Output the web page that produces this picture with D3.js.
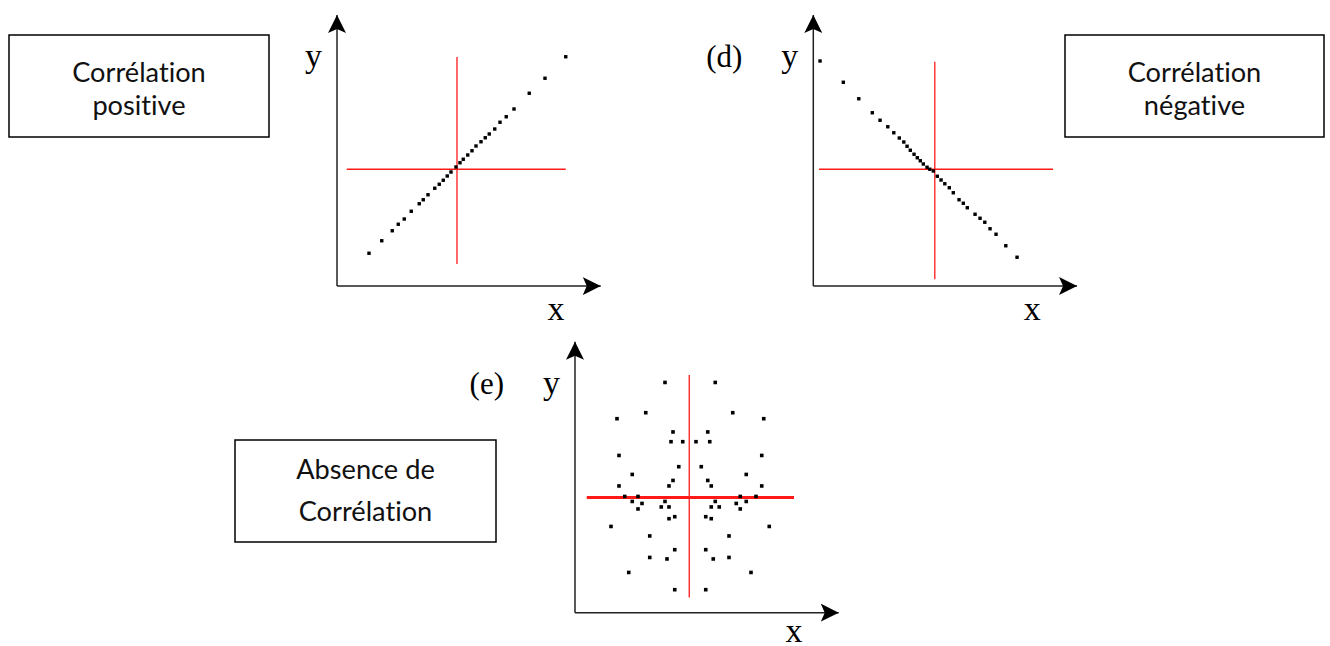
<!DOCTYPE html>
<html>
<head>
<meta charset="utf-8">
<script src="https://cdn.jsdelivr.net/npm/d3@7"></script>
<style>
  body { margin: 0; background: #fff; }
  text { font-variant-ligatures: none; }
</style>
</head>
<body>
<script>
// point clouds, values on a 0-100 scale for each panel
var posX = [12.8, 17.9, 22.1, 24.5, 26.9, 29.7, 32.9, 34.5, 36.4, 39.1, 40.9, 42.5, 44.1, 45.6, 47.6,
            49.2, 50.5, 52.3, 54.0, 55.6, 57.6, 59.3, 60.9, 63.1, 65.2, 67.7, 70.8, 76.9, 83.2, 91.5];
var posY = [13.1, 18.1, 22.1, 24.7, 26.8, 29.9, 32.9, 34.5, 36.5, 39.1, 40.7, 42.3, 44.0, 45.6, 47.6,
            49.3, 50.7, 52.4, 54.1, 56.0, 57.7, 59.3, 60.8, 62.8, 65.5, 67.7, 70.8, 77.1, 83.1, 91.7];

var negX = [2.7, 12.0, 18.2, 23.6, 26.7, 29.8, 32.2, 34.4, 36.2, 37.5, 38.8, 40.3, 41.6, 42.8, 44.0, 45.5, 46.6,
            48.0, 49.6, 51.1, 52.6, 54.4, 56.0, 58.3, 60.0, 61.6, 64.7, 66.7, 68.6, 70.7, 73.1, 77.0, 81.5];
var negY = [90.0, 81.5, 74.9, 69.3, 66.3, 63.7, 61.3, 59.2, 57.6, 55.9, 54.3, 52.7, 51.3, 50.1, 48.8, 47.5, 46.7,
            46.0, 43.9, 42.4, 40.9, 39.3, 37.3, 34.5, 33.1, 31.3, 28.7, 27.1, 25.5, 22.9, 20.7, 16.1, 11.5];

var nulX = [36.0, 56.1, 28.3, 63.1, 16.8, 75.5, 39.2, 53.1, 38.4, 43.1, 48.4, 53.9, 17.6, 74.7, 41.5, 50.5,
            22.9, 68.5, 39.2, 53.1, 17.6, 37.6, 54.5, 74.7, 19.9, 25.2, 66.1, 72.4, 22.9, 36.0, 56.1, 68.5,
            26.8, 64.5, 25.2, 34.5, 37.6, 54.5, 57.7, 66.1, 37.6, 39.9, 52.3, 54.5, 14.4, 77.7, 29.9, 61.6,
            39.9, 52.3, 29.9, 36.8, 55.3, 61.6, 21.5, 70.4, 39.9, 52.3];
var nulY = [92.1, 92.1, 80.0, 80.0, 77.6, 77.6, 72.3, 72.3, 68.4, 68.4, 68.4, 68.4, 62.9, 62.9, 58.4, 58.4,
            55.3, 55.3, 52.9, 52.9, 50.7, 50.7, 50.7, 50.7, 46.5, 46.5, 46.5, 46.5, 44.5, 44.5, 44.5, 44.5,
            43.7, 43.7, 41.5, 42.3, 42.3, 42.3, 42.3, 41.5, 37.6, 38.4, 38.4, 37.6, 34.5, 34.5, 30.7, 30.7,
            25.2, 25.2, 22.1, 21.5, 21.5, 22.1, 16.1, 16.1, 9.2, 9.2];

// red cross (mean of x, mean of y) and how far each arm goes
var meanX = [48.0, 48.6, 45.7];
var meanY = [46.7, 46.7, 46.1];
var hFrom = [3.9, 2.3, 4.7];
var hTo = [91.5, 95.9, 87.6];
var vFrom = [8.8, 2.7, 6.1];
var vTo = [91.6, 89.7, 95.1];
var axisMax = [105.5, 108.4];

var boxText = [["Corrélation", "positive"], ["Corrélation", "négative"], ["Absence de", "Corrélation"]];
var panelTags = ["", "(d)", "(e)"];

var svg = d3.select("body").append("svg")
    .attr("width", 1330)
    .attr("height", 646);

svg.append("defs").append("marker")
    .attr("id", "arrow")
    .attr("viewBox", "0 -10 20 20")
    .attr("refX", 18)
    .attr("refY", 0)
    .attr("markerUnits", "userSpaceOnUse")
    .attr("markerWidth", 20)
    .attr("markerHeight", 20)
    .attr("orient", "auto")
    .append("path")
    .attr("d", "M0,-9 L18,0 L0,9 L4,0 Z")
    .attr("fill", "#000");

var panels = [
    { ox: 337, oy: 286, xs: posX, ys: posY, dot: 3.4, hw: 1.3 },
    { ox: 813.3, oy: 286, xs: negX, ys: negY, dot: 3.4, hw: 1.3 },
    { ox: 575, oy: 612.7, xs: nulX, ys: nulY, dot: 3.6, hw: 3 }
];
var unit = 2.5;

panels.forEach(function(p, i) {
    var x = d3.scaleLinear().domain([0, 100]).range([p.ox, p.ox + 100 * unit]);
    var y = d3.scaleLinear().domain([0, 100]).range([p.oy, p.oy - 100 * unit]);
    var g = svg.append("g");

    // axes with arrow heads
    g.append("line")
        .attr("x1", x(0)).attr("y1", y(0))
        .attr("x2", x(axisMax[0])).attr("y2", y(0))
        .attr("stroke", "#222").attr("stroke-width", 1.5)
        .attr("marker-end", "url(#arrow)");
    g.append("line")
        .attr("x1", x(0)).attr("y1", y(0))
        .attr("x2", x(0)).attr("y2", y(axisMax[1]))
        .attr("stroke", "#222").attr("stroke-width", 1.5)
        .attr("marker-end", "url(#arrow)");

    // red cross
    g.append("line")
        .attr("x1", x(hFrom[i])).attr("x2", x(hTo[i]))
        .attr("y1", y(meanY[i])).attr("y2", y(meanY[i]))
        .attr("stroke", "#ff1a1a").attr("stroke-width", p.hw);
    g.append("line")
        .attr("x1", x(meanX[i])).attr("x2", x(meanX[i]))
        .attr("y1", y(vFrom[i])).attr("y2", y(vTo[i]))
        .attr("stroke", "#ff1a1a").attr("stroke-width", 1.3);

    g.selectAll("rect.pt")
        .data(d3.range(p.xs.length))
        .enter().append("rect")
        .attr("class", "pt")
        .attr("x", function(k) { return x(p.xs[k]) - p.dot / 2; })
        .attr("y", function(k) { return y(p.ys[k]) - p.dot / 2; })
        .attr("width", p.dot)
        .attr("height", p.dot)
        .attr("fill", "#000");

    // axis names
    g.append("text")
        .attr("x", p.ox - 32).attr("y", p.oy - 219)
        .attr("font-family", "Liberation Serif")
        .attr("font-size", 34)
        .text("y");
    g.append("text")
        .attr("x", p.ox + 219).attr("y", Math.min(p.oy + 34, 642))
        .attr("text-anchor", "middle")
        .attr("font-family", "Liberation Serif")
        .attr("font-size", 34)
        .text("x");
    if (panelTags[i]) {
        g.append("text")
            .attr("x", p.ox - 71).attr("y", p.oy - 219)
            .attr("text-anchor", "end")
            .attr("font-family", "Liberation Serif")
            .attr("font-size", 31)
            .text(panelTags[i]);
    }
});

// text boxes
var boxes = [
    { x: 9, y: 35, w: 260, h: 102, b1: 82, b2: 115 },
    { x: 1065, y: 35, w: 259, h: 102, b1: 82, b2: 115 },
    { x: 235, y: 440, w: 261, h: 102, b1: 479, b2: 521 }
];
boxes.forEach(function(b, i) {
    svg.append("rect")
        .attr("x", b.x).attr("y", b.y)
        .attr("width", b.w).attr("height", b.h)
        .attr("fill", "#fff")
        .attr("stroke", "#000")
        .attr("stroke-width", 1.5);
    [b.b1, b.b2].forEach(function(by, j) {
        svg.append("text")
            .attr("x", b.x + b.w / 2)
            .attr("y", by)
            .attr("text-anchor", "middle")
            .attr("font-family", "Lato")
            .attr("font-size", 27.2)
            .attr("fill", "#111")
            .text(boxText[i][j]);
    });
});
</script>
</body>
</html>
